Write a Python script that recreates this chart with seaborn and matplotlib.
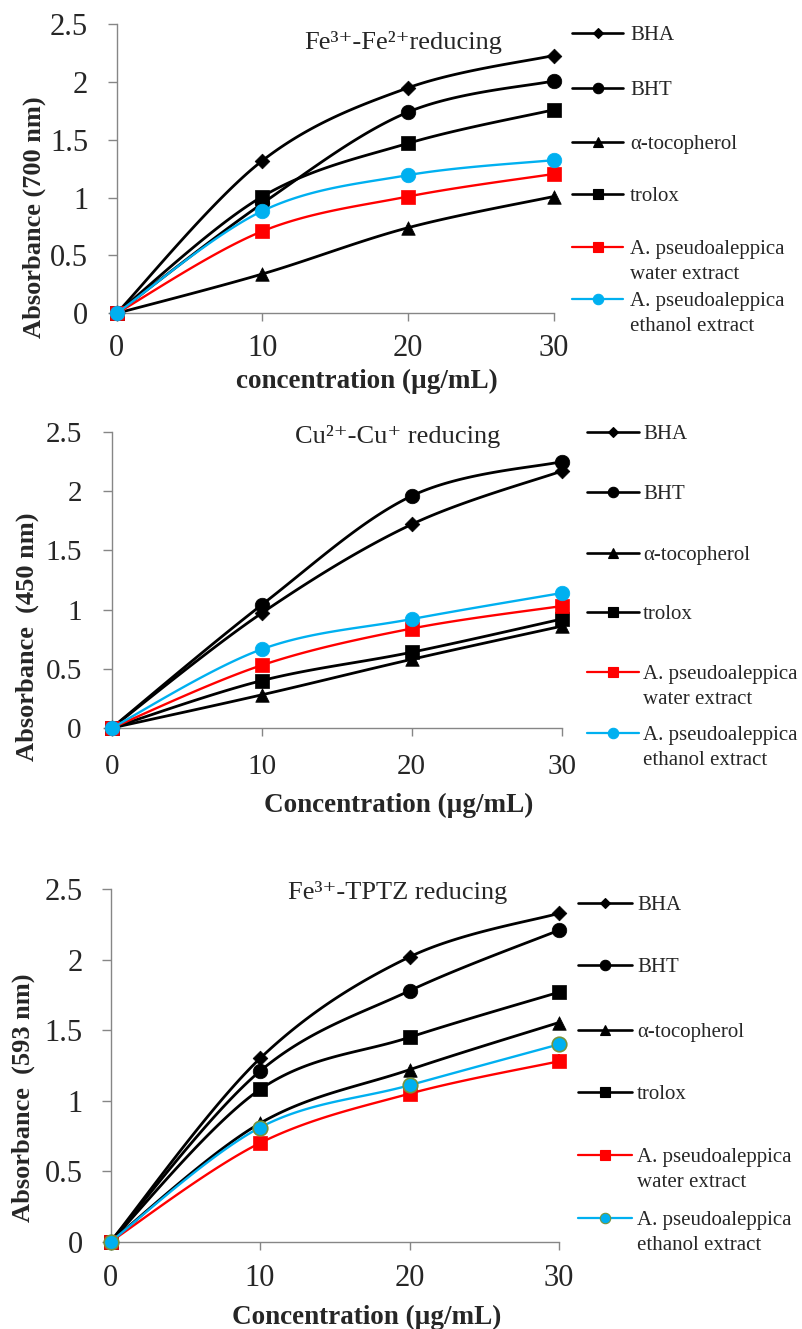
import numpy as np
import matplotlib
matplotlib.use("Agg")
import matplotlib.pyplot as plt
from matplotlib.lines import Line2D
import seaborn as sns

# ---------------- data ----------------
conc = [0, 10, 20, 30]
x_tick_labels = ["0", "10", "20", "30"]
y_ticks = [0, 0.5, 1, 1.5, 2, 2.5]
y_tick_labels = ["0", "0.5", "1", "1.5", "2", "2.5"]
series_labels = ["BHA", "BHT", "α-tocopherol", "trolox",
                 "A. pseudoaleppica\nwater extract",
                 "A. pseudoaleppica\nethanol extract"]

# Fe3+-Fe2+ reducing (700 nm)
fe_bha = [0, 1.32, 1.95, 2.23]
fe_bht = [0, 0.95, 1.74, 2.01]
fe_toco = [0, 0.34, 0.74, 1.01]
fe_trolox = [0, 1.01, 1.47, 1.76]
fe_water = [0, 0.71, 1.01, 1.205]
fe_ethanol = [0, 0.885, 1.195, 1.325]

# Cu2+-Cu+ reducing (450 nm)
cu_bha = [0, 0.97, 1.72, 2.17]
cu_bht = [0, 1.04, 1.96, 2.25]
cu_toco = [0, 0.28, 0.58, 0.86]
cu_trolox = [0, 0.40, 0.64, 0.92]
cu_water = [0, 0.53, 0.84, 1.03]
cu_ethanol = [0, 0.665, 0.92, 1.14]

# Fe3+-TPTZ reducing (593 nm)
tp_bha = [0, 1.30, 2.02, 2.33]
tp_bht = [0, 1.21, 1.78, 2.21]
tp_toco = [0, 0.84, 1.22, 1.555]
tp_trolox = [0, 1.08, 1.45, 1.77]
tp_water = [0, 0.70, 1.05, 1.28]
tp_ethanol = [0, 0.81, 1.11, 1.40]
tp_water_err = [0, 0, 0, 0.05]

titles = ["Fe³⁺-Fe²⁺reducing", "Cu²⁺-Cu⁺ reducing", "Fe³⁺-TPTZ reducing"]
ylabels = ["Absorbance (700 nm)", "Absorbance  (450 nm)", "Absorbance  (593 nm)"]
xlabels = ["concentration (µg/mL)", "Concentration (µg/mL)", "Concentration (µg/mL)"]

panel_data = [
    [fe_bha, fe_bht, fe_toco, fe_trolox, fe_water, fe_ethanol],
    [cu_bha, cu_bht, cu_toco, cu_trolox, cu_water, cu_ethanol],
    [tp_bha, tp_bht, tp_toco, tp_trolox, tp_water, tp_ethanol],
]

# ---------------- style ----------------
sns.set_style("ticks")
plt.rcParams["font.family"] = ["Liberation Serif", "DejaVu Serif"]

W, H = 802, 1329
fig = plt.figure(figsize=(W / 100, H / 100), dpi=100)

RED = "#FF0000"
BLUE = "#00B0F0"
GREY = "#868686"

# style per series: color, marker, scatter size, line width, edge color, legend ms
styles = [
    dict(color="black", marker="D", s=56, lw=2.0, ec="black", lms=5.0),
    dict(color="black", marker="o", s=110, lw=2.0, ec="black", lms=7.5),
    dict(color="black", marker="^", s=95, lw=2.0, ec="black", lms=7.5),
    dict(color="black", marker="s", s=95, lw=2.0, ec="black", lms=7.0),
    dict(color=RED, marker="s", s=95, lw=1.7, ec=RED, lms=7.0),
    dict(color=BLUE, marker="o", s=110, lw=1.7, ec=BLUE, lms=7.5),
]

# panel geometry in pixels (left, right, top, bottom)
panels = [
    dict(rect=(116.7, 553.5, 24.3, 313.3), tick_fs=22, ylab=(34, 217), xlab=(367, 381),
         title=(403, 42), xpad=9, ypad=14,
         leg_y=[33, 88, 142, 194, 247, 299], leg_y2=272 - 247, leg_x=(572, 623, 630)),
    dict(rect=(111.7, 561.7, 432, 728), tick_fs=21, ylab=(27, 637), xlab=(399, 805),
         title=(398, 437), xpad=13, ypad=15,
         leg_y=[432, 492, 553, 612, 672, 733], leg_y2=25, leg_x=(587, 639, 643)),
    dict(rect=(110.5, 559, 889.3, 1241.7), tick_fs=22, ylab=(23, 1098), xlab=(367, 1317),
         title=(398, 893), xpad=10, ypad=13.5,
         leg_y=[903, 965, 1030, 1092, 1155, 1218], leg_y2=25, leg_x=(578, 632, 637)),
]


def fx(x):
    return x / W


def fy(y):
    return 1 - y / H


def smooth(xs, ys, sx, sy, n=40):
    """Excel-like smoothed line (Bezier through the points, in pixel space)."""
    P = np.column_stack([np.asarray(xs, float) * sx, np.asarray(ys, float) * sy])
    m = len(P)
    out = [P[0]]
    t = np.linspace(0, 1, n)[1:, None]
    for i in range(m - 1):
        p0 = P[i - 1] if i > 0 else P[i]
        p1, p2 = P[i], P[i + 1]
        p3 = P[i + 2] if i + 2 < m else P[i + 1]
        c1 = p1 + (p2 - p0) / 6
        c2 = p2 - (p3 - p1) / 6
        b = (1 - t) ** 3 * p1 + 3 * (1 - t) ** 2 * t * c1 + 3 * (1 - t) * t ** 2 * c2 + t ** 3 * p2
        out.extend(b)
    out = np.array(out)
    return out[:, 0] / sx, out[:, 1] / sy


for k, (pan, data) in enumerate(zip(panels, panel_data)):
    l, r, t, b = pan["rect"]
    ax = fig.add_axes([fx(l), fy(b), (r - l) / W, (b - t) / H])
    sx = (r - l) / 30.0
    sy = (b - t) / 2.5
    for i, (vals, st) in enumerate(zip(data, styles)):
        xs, ys = smooth(conc, vals, sx, sy)
        sns.lineplot(x=xs, y=ys, ax=ax, color=st["color"], lw=st["lw"], sort=False,
                     estimator=None, clip_on=False, zorder=3 + 2 * i, legend=False)
        ec = st["ec"]
        if k == 2 and i == 5:
            ec = "#77933C"
        if k == 2 and i == 4:
            ax.errorbar(conc, vals, yerr=tp_water_err, fmt="none", ecolor=RED,
                        elinewidth=1.5, capsize=0, zorder=3 + 2 * i, clip_on=False)
        sns.scatterplot(x=conc, y=vals, ax=ax, marker=st["marker"], s=st["s"],
                        color=st["color"], edgecolor=ec,
                        linewidth=1.2 if ec != st["color"] else 0.5,
                        clip_on=False, zorder=4 + 2 * i, legend=False)

    ax.set_xlim(0, 30)
    ax.set_ylim(0, 2.5)
    ax.set_xticks(conc)
    ax.set_xticklabels(x_tick_labels)
    ax.set_yticks(y_ticks)
    ax.set_yticklabels(y_tick_labels)
    for side in ("top", "right"):
        ax.spines[side].set_visible(False)
    for side in ("left", "bottom"):
        ax.spines[side].set_color(GREY)
        ax.spines[side].set_linewidth(1.0)
    ax.tick_params(axis="x", length=6, width=1, color=GREY, pad=pan["xpad"],
                   labelsize=pan["tick_fs"])
    ax.tick_params(axis="y", length=6.5, width=1, color=GREY, pad=pan["ypad"],
                   labelsize=pan["tick_fs"])
    ax.set_facecolor("none")

    ax.set_xlabel(xlabels[k], fontsize=19.5, fontweight="bold")
    ax.xaxis.label.set_va("center")
    ax.xaxis.set_label_coords(fx(pan["xlab"][0]), fy(pan["xlab"][1]), transform=fig.transFigure)
    ax.set_ylabel(ylabels[k], fontsize=19, fontweight="bold")
    ax.yaxis.label.set_va("center")
    ax.yaxis.set_label_coords(fx(pan["ylab"][0]), fy(pan["ylab"][1]), transform=fig.transFigure)

    fig.text(fx(pan["title"][0]), fy(pan["title"][1]), titles[k], fontsize=19,
             ha="center", va="center")

    # legend (drawn to the right of the plot area)
    x0, x1, xt = pan["leg_x"]
    leg_fs = 15
    em = leg_fs * 100 / 72
    for i, (y, st, lab) in enumerate(zip(pan["leg_y"], styles, series_labels)):
        fig.add_artist(Line2D([fx(x0), fx(x1)], [fy(y), fy(y)], color=st["color"],
                              lw=st["lw"] * 0.95, transform=fig.transFigure))
        mec = st["ec"]
        if k == 2 and i == 5:
            mec = "#77933C"
        fig.add_artist(Line2D([fx((x0 + x1) / 2)], [fy(y)], marker=st["marker"],
                              ms=st["lms"], mfc=st["color"], mec=mec, mew=0.8,
                              ls="none", transform=fig.transFigure))
        for j, line in enumerate(lab.split("\n")):
            yy = y + j * pan["leg_y2"] + 0.33 * em
            fig.text(fx(xt), fy(yy), line, fontsize=leg_fs, ha="left", va="baseline")

fig.savefig("out.png", dpi=100)
